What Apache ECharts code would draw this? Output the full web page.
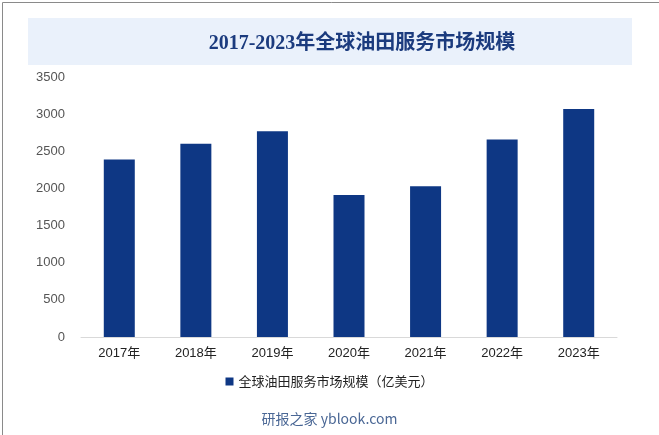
<!DOCTYPE html>
<html>
<head>
<meta charset="utf-8">
<script src="https://cdn.jsdelivr.net/npm/echarts@6/dist/echarts.min.js"></script>
<style>
html,body{margin:0;padding:0;background:#fff;}
#c{width:659px;height:435px;box-sizing:border-box;}
</style>
</head>
<body>
<div id="c"></div>
<script>
const categories = ['2017年','2018年','2019年','2020年','2021年','2022年','2023年'];
const values = [2390, 2600, 2770, 1910, 2030, 2660, 3070];
const seriesName = '全球油田服务市场规模（亿美元）';
const titleText = '2017-2023年全球油田服务市场规模';
const yMax = 3500, yInterval = 500;

const chart = echarts.init(document.getElementById('c'), null, {renderer:'canvas'});
chart.setOption({
  animation:false,
  backgroundColor:'#fff',
  graphic:[
    {type:'rect', left:0, top:0, shape:{width:658, height:434}, style:{fill:'none', stroke:'#8a8a8a', lineWidth:1}, z:-1, silent:true},
    {type:'rect', left:28, top:18, shape:{width:604, height:47}, style:{fill:'#eaf1fb'}, z:-1, silent:true},
    {type:'text', left:'center', top:412, style:{text:'研报之家 yblook.com', fill:'#4a6795', font:'14px "Noto Sans CJK SC", sans-serif'}}
  ],
  title:{
    text:titleText, left:357, top:29, textAlign:'center',
    textStyle:{fontFamily:'"Liberation Serif","Noto Sans CJK SC",serif', fontSize:20, fontWeight:'bold', color:'#1b3b7e'}
  },
  legend:{
    bottom:42, left:'center', itemWidth:8, itemHeight:8, icon:'rect', itemGap:6,
    textStyle:{fontSize:13, color:'#222', fontFamily:'"Noto Sans CJK SC", sans-serif'},
    data:[seriesName]
  },
  grid:{left:81, right:42, top:77, bottom:98},
  xAxis:{
    type:'category', data:categories,
    axisLine:{lineStyle:{color:'#d9d9d9'}}, axisTick:{show:false},
    axisLabel:{fontSize:13, color:'#222', margin:10, fontFamily:'"Liberation Sans","Noto Sans CJK SC",sans-serif'}
  },
  yAxis:{
    type:'value', min:0, max:yMax, interval:yInterval,
    axisLine:{show:false}, axisTick:{show:false}, splitLine:{show:false},
    axisLabel:{fontSize:13, color:'#555', margin:16, fontFamily:'"Liberation Sans",sans-serif', formatter:function(v){return String(v);}}
  },
  series:[{
    name:seriesName, type:'bar', data:values, barWidth:31,
    itemStyle:{color:'#0e3784'}
  }]
});
</script>
</body>
</html>
